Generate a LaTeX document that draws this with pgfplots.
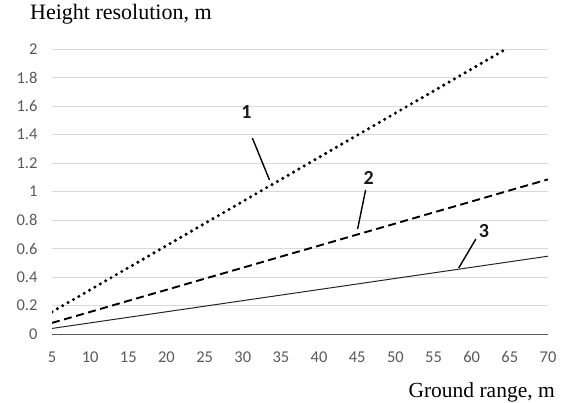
\documentclass[border=0pt]{standalone}
\usepackage{fontspec}
\setmainfont{Liberation Serif}
\newfontfamily\calibri{Carlito}
\usepackage{pgfplots}
\pgfplotsset{compat=1.18}
\definecolor{tickgray}{HTML}{595959}
\definecolor{gridgray}{HTML}{D9D9D9}
\begin{document}
\begin{tikzpicture}
\useasboundingbox (0,0) rectangle (567bp,403bp);
\begin{axis}[
  at={(52bp,69bp)}, anchor=south west,
  scale only axis, width=496bp, height=285bp,
  xmin=5, xmax=70, ymin=0, ymax=2,
  xtick={5,10,...,70}, ytick={0,0.2,...,2.01},
  yticklabels={0,0.2,0.4,0.6,0.8,1,1.2,1.4,1.6,1.8,2},
  axis lines*=left,
  x axis line style={draw=black!65, line width=0.9bp},
  y axis line style={draw=none},
  major tick length=0pt,
  ymajorgrids, grid style={gridgray, line width=0.9bp},
  tick label style={font=\calibri\fontsize{16.5bp}{18bp}\selectfont, text=tickgray},
  yticklabel style={xshift=-11bp},
  xticklabel style={yshift=-14bp},
  /pgf/number format/assume math mode=true,
  clip=true,
]
\addplot[black, line width=3.4bp, line cap=round, dash pattern=on 0bp off 6.2bp]
  coordinates {(5,0.155) (10,0.31) (15,0.465) (20,0.62) (25,0.775) (30,0.93) (35,1.085) (40,1.24) (45,1.395) (50,1.55) (55,1.705) (60,1.86) (64.5,2.0)};
\addplot[black, line width=1.9bp, dash pattern=on 8bp off 4.5bp]
  coordinates {(5,0.078) (10,0.155) (15,0.233) (20,0.31) (25,0.388) (30,0.465) (35,0.543) (40,0.62) (45,0.698) (50,0.775) (55,0.853) (60,0.93) (65,1.008) (70,1.085)};
\addplot[black!85, line width=1bp]
  coordinates {(5,0.039) (10,0.078) (15,0.117) (20,0.156) (25,0.195) (30,0.234) (35,0.273) (40,0.312) (45,0.351) (50,0.39) (55,0.429) (60,0.468) (65,0.507) (70,0.546)};
\draw[black, line width=1.4bp] (axis cs:31.26,1.375) -- (axis cs:33.5,1.081);
\draw[black, line width=1.4bp] (axis cs:46.1,1.011) -- (axis cs:45.05,0.737);
\draw[black, line width=1.4bp] (axis cs:60.55,0.667) -- (axis cs:58.3,0.463);
\node[font=\calibri\bfseries\fontsize{20bp}{22bp}\selectfont, text=black!90] at (axis cs:30.48,1.558) {1};
\node[font=\calibri\bfseries\fontsize{20bp}{22bp}\selectfont, text=black!90] at (axis cs:46.5,1.095) {2};
\node[font=\calibri\bfseries\fontsize{20bp}{22bp}\selectfont, text=black!90] at (axis cs:61.6,0.723) {3};
\end{axis}
\node[anchor=base west, inner sep=0pt, font=\fontsize{22bp}{24bp}\selectfont] at (30bp,383bp) {Height resolution, m};
\node[anchor=base east, inner sep=0pt, font=\fontsize{21.5bp}{24bp}\selectfont] at (555bp,6bp) {Ground range, m};
\end{tikzpicture}
\end{document}
